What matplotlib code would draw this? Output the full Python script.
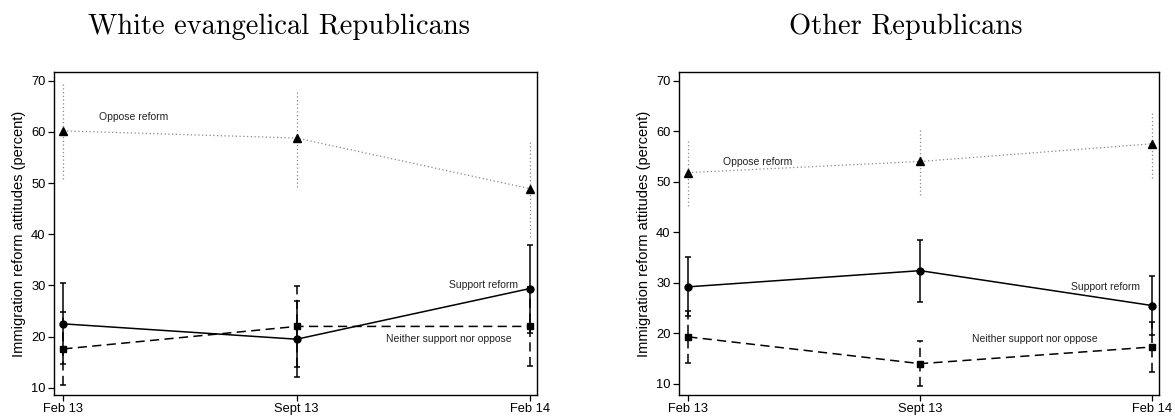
import matplotlib
matplotlib.use("Agg")
import matplotlib.pyplot as plt

plt.rcParams["font.family"] = ["Liberation Sans", "DejaVu Sans"]

WAVES = ["Feb 13", "Sept 13", "Feb 14"]

# white evangelical Republicans
EV_OPPOSE = [60.2, 58.8, 48.9]
EV_OPPOSE_LO = [50.7, 49.3, 39.4]
EV_OPPOSE_HI = [69.6, 68.2, 58.4]
EV_SUPPORT = [22.5, 19.5, 29.4]
EV_SUPPORT_LO = [14.6, 12.1, 20.8]
EV_SUPPORT_HI = [30.4, 27.0, 38.0]
EV_NEITHER = [17.6, 22.0, 22.0]
EV_NEITHER_LO = [10.5, 14.1, 14.3]
EV_NEITHER_HI = [24.8, 29.8, 29.7]

# other Republicans
OT_OPPOSE = [51.8, 54.0, 57.5]
OT_OPPOSE_LO = [45.1, 47.3, 50.7]
OT_OPPOSE_HI = [58.3, 60.5, 63.9]
OT_SUPPORT = [29.2, 32.4, 25.5]
OT_SUPPORT_LO = [23.4, 26.2, 19.7]
OT_SUPPORT_HI = [35.1, 38.5, 31.3]
OT_NEITHER = [19.3, 14.0, 17.3]
OT_NEITHER_LO = [14.1, 9.5, 12.4]
OT_NEITHER_HI = [24.4, 18.4, 22.2]

YTICKS = [10, 20, 30, 40, 50, 60, 70]


def draw_series(ax, x, y, lo, hi, ls, marker, color, lw, capsize, ms):
    yerr = [[v - l for v, l in zip(y, lo)], [h - v for v, h in zip(y, hi)]]
    _l, _c, bars = ax.errorbar(
        x, y, yerr=yerr, fmt="none", ecolor=color, elinewidth=lw,
        capsize=capsize, capthick=lw, zorder=2,
    )
    for b in bars:
        b.set_linestyle(ls)
    ax.plot(x, y, linestyle=ls, color=color, linewidth=lw, zorder=3)
    ax.plot(x, y, linestyle="none", marker=marker, color="black",
            markersize=ms, zorder=4)


def panel(ax, opp, opp_lo, opp_hi, sup, sup_lo, sup_hi, nei, nei_lo, nei_hi,
          labels, ybottom):
    x = list(range(len(WAVES)))
    draw_series(ax, x, opp, opp_lo, opp_hi, (0, (1, 2)), "^", "#888888",
                0.9, 0, 5.5)
    draw_series(ax, x, sup, sup_lo, sup_hi, "-", "o", "black", 1.1, 2.4, 5)
    draw_series(ax, x, nei, nei_lo, nei_hi, (0, (6, 3.5)), "s", "black",
                1.1, 2.4, 4.6)
    for (tx, ty, s) in labels:
        ax.text(tx, ty, s, fontsize=7.5, ha="center", va="center",
                color="#222222")
    ax.set_xlim(-0.04, 2.03)
    ax.set_ylim(ybottom, 71.7)
    ax.set_xticks(x)
    ax.set_xticklabels(WAVES)
    ax.set_yticks(YTICKS)
    ax.tick_params(labelsize=9.3, length=4, width=0.9, pad=2)
    ax.set_ylabel("Immigration reform attitudes (percent)", fontsize=10.5)
    for sp in ax.spines.values():
        sp.set_linewidth(1.0)


fig = plt.figure(figsize=(11.75, 4.17), dpi=100)
ax1 = fig.add_axes([54 / 1175, 1 - 395 / 417, 483 / 1175, 323 / 417])
ax2 = fig.add_axes([679 / 1175, 1 - 395 / 417, 480 / 1175, 323 / 417])

panel(ax1, EV_OPPOSE, EV_OPPOSE_LO, EV_OPPOSE_HI,
      EV_SUPPORT, EV_SUPPORT_LO, EV_SUPPORT_HI,
      EV_NEITHER, EV_NEITHER_LO, EV_NEITHER_HI,
      [(0.30, 62.9, "Oppose reform"), (1.80, 30.0, "Support reform"),
       (1.65, 19.5, "Neither support nor oppose")], 8.6)
panel(ax2, OT_OPPOSE, OT_OPPOSE_LO, OT_OPPOSE_HI,
      OT_SUPPORT, OT_SUPPORT_LO, OT_SUPPORT_HI,
      OT_NEITHER, OT_NEITHER_LO, OT_NEITHER_HI,
      [(0.30, 53.8, "Oppose reform"), (1.80, 29.2, "Support reform"),
       (1.494, 18.8, "Neither support nor oppose")], 7.8)

fig.text(279 / 1175, 1 - 34 / 417, "White evangelical Republicans",
         family="cmr10", fontsize=20.5, ha="center", va="baseline")
fig.text(906 / 1175, 1 - 34 / 417, "Other Republicans",
         family="cmr10", fontsize=20.5, ha="center", va="baseline")

fig.savefig("out.png", dpi=100)
